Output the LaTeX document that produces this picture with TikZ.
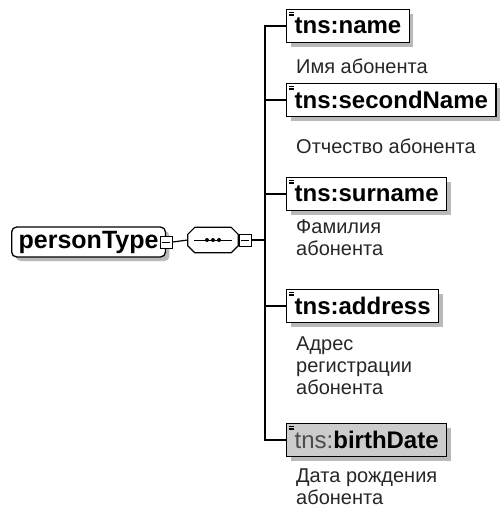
\documentclass[tikz,border=0pt]{standalone}
\usepackage{fontspec}
\setmainfont{Liberation Sans}
\usetikzlibrary{shadows}
\begin{document}
\begin{tikzpicture}[x=1pt,y=-1pt]
\tikzset{
  shad/.style={drop shadow={shadow xshift=4pt,shadow yshift=-4pt,fill=gray!55,opacity=1}},
  elem/.style={draw, line width=1.3pt, fill=white, shad,
    font=\fontsize{24}{26}\selectfont\bfseries, inner xsep=8pt, inner ysep=0pt,
    minimum height=33pt, anchor=west,
    path picture={\foreach \k in {0,1,2}{\draw[line width=0.5pt]
      ([xshift=2.5pt,yshift=-3pt-\k*1.5pt]path picture bounding box.north west) -- ++(5pt,0);}}},
  desc/.style={font=\fontsize{20}{22}\selectfont, align=left, anchor=north west, inner sep=0pt, text=black!85},
  minusbox/.style={draw, line width=1pt, fill=white, minimum size=12pt, inner sep=0pt,
    path picture={\draw[line width=1pt] ([xshift=2pt]path picture bounding box.west) -- ([xshift=-2pt]path picture bounding box.east);}},
  conn/.style={line width=1.2pt},
}
\useasboundingbox (0,0) rectangle (501,517);
% root type
\node[draw, line width=1.3pt, rounded corners=5pt, fill=white, shad, anchor=west,
  font=\fontsize{25}{27}\selectfont\bfseries, inner xsep=7pt, minimum height=30pt]
  (pt) at (11,242) {personType\hspace{4pt}};
\node[minusbox] (m1) at (pt.east) {};
% sequence compositor
\node[minimum width=50pt, minimum height=25pt, inner sep=0pt] (seq) at (213,240) {};
\begin{scope}[shift={(4pt,-4pt)}]
\fill[gray!55] ([yshift=-7pt]seq.north west) -- ([xshift=7pt]seq.north west) -- ([xshift=-7pt]seq.north east)
  -- ([yshift=-7pt]seq.north east) -- ([yshift=7pt]seq.south east) -- ([xshift=-7pt]seq.south east)
  -- ([xshift=7pt]seq.south west) -- ([yshift=7pt]seq.south west) -- cycle;
\end{scope}
\draw[line width=1.2pt, fill=white] ([yshift=-7pt]seq.north west) -- ([xshift=7pt]seq.north west) -- ([xshift=-7pt]seq.north east)
  -- ([yshift=-7pt]seq.north east) -- ([yshift=7pt]seq.south east) -- ([xshift=-7pt]seq.south east)
  -- ([xshift=7pt]seq.south west) -- ([yshift=7pt]seq.south west) -- cycle;
\draw[line width=1pt] ([xshift=6pt]seq.west) -- ([xshift=-6pt]seq.east);
\foreach \dx in {-6,0,6}{\fill ([xshift=\dx pt]seq.center) circle (2pt);}
\node[minusbox] (m2) at ([xshift=7pt]seq.east) {};
\coordinate (bus) at (265,240);
% elements
\node[elem] (n1) at (286,26) {tns:name};
\node[elem] (n2) at (286,100) {tns:secondName};
\node[elem] (n3) at (286,194) {tns:surname};
\node[elem] (n4) at (286,306) {tns:address};
\node[elem, fill=gray!40] (n5) at (286,440) {{\mdseries\color{black!70}tns:}birthDate};
% descriptions
\node[desc] (d1) at (296,59) {Имя абонента};
\node[desc] (d2) at (296,139) {Отчество абонента};
\node[desc] (d3) at (296,219) {Фамилия\\абонента};
\node[desc] (d4) at (296,337) {Адрес\\регистрации\\абонента};
\node[desc] (d5) at (296,469) {Дата рождения\\абонента};
% connectors
\draw[conn] (m1.east) -- (seq.west);
\draw[conn] (m2.east) -- (bus);
\draw[conn] (n1.west) -- (n1.west -| bus) |- (n5.west);
\draw[conn] (n2.west) -- (n2.west -| bus);
\draw[conn] (n3.west) -- (n3.west -| bus);
\draw[conn] (n4.west) -- (n4.west -| bus);
\end{tikzpicture}
\end{document}
